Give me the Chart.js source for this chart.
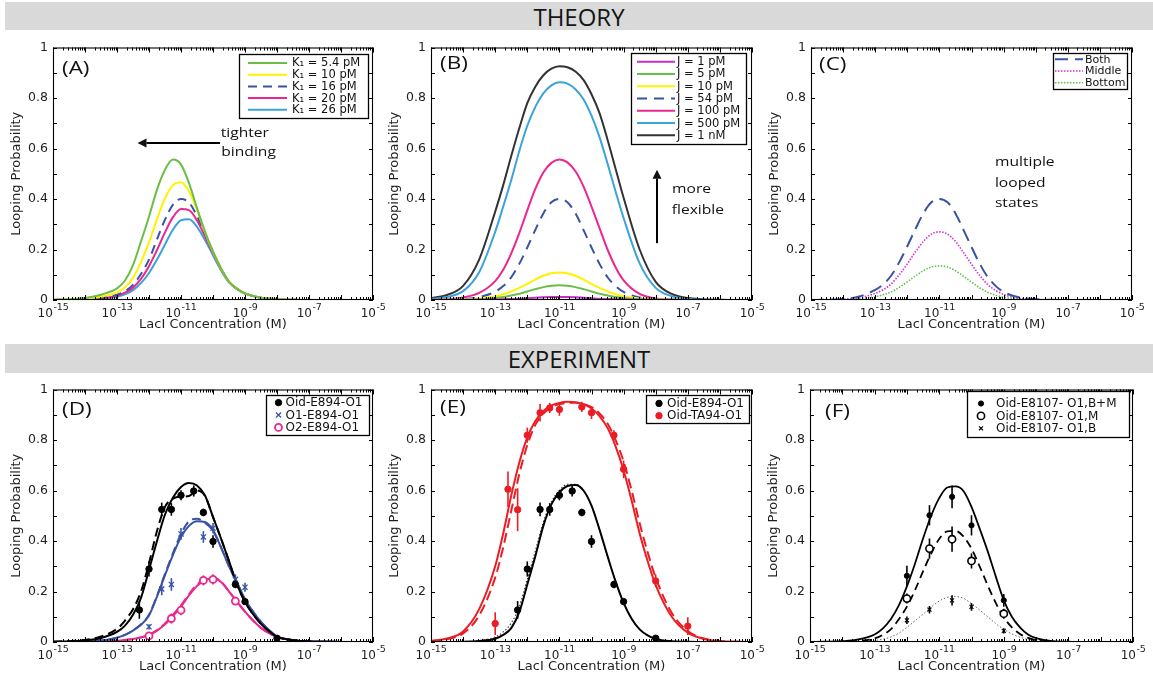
<!DOCTYPE html>
<html>
<head>
<meta charset="utf-8">
<title>Looping probability vs LacI concentration</title>
<script src="https://cdn.jsdelivr.net/npm/chart.js@4.4.1/dist/chart.umd.min.js"></script>
<style>
  html, body { margin: 0; padding: 0; background: #fff; }
  body { width: 1153px; height: 677px; position: relative; overflow: hidden; }
  .band { position: absolute; left: 5px; right: 0; background: #d9d9d9;
          font-family: "Open Sans", "Noto Sans", sans-serif; font-size: 24px;
          color: #151515; text-align: center; }
  canvas { position: absolute; }
</style>
</head>
<body>
<div class="band" style="top:2px;height:28px;line-height:29px;">THEORY</div>
<div class="band" style="top:344px;height:29px;line-height:30px;">EXPERIMENT</div>
<canvas id="pA"></canvas>
<canvas id="pB"></canvas>
<canvas id="pC"></canvas>
<canvas id="pD"></canvas>
<canvas id="pE"></canvas>
<canvas id="pF"></canvas>
<script>
// ---------- data ----------
// log10 of LacI concentration (M) where the model curves are sampled
const theoryLogC = [-15,-14.5,-14,-13.5,-13,-12.75,-12.5,-12.25,-12,-11.75,-11.5,-11.25,-11,-10.75,-10.5,-10.25,-10,-9.75,-9.5,-9.25,-9,-8.5,-8,-7.5,-7,-6,-5];
const fitLogC = [-15,-14.5,-14,-13.5,-13,-12.75,-12.5,-12.25,-12,-11.75,-11.5,-11.25,-11,-10.75,-10.5,-10.25,-10,-9.75,-9.5,-9.25,-9,-8.75,-8.5,-8.25,-8,-7.5,-7,-6.5,-6,-5.5,-5];

// decade ticks and the labelled exponents on the concentration axis
const decadeExponents = [-15,-14,-13,-12,-11,-10,-9,-8,-7,-6,-5];
const labelExponents = [-15,-13,-11,-9,-7,-5];

// (A) varying K1
const k1_5p4 = [0.001,0.003,0.008,0.021,0.046,0.077,0.138,0.232,0.33,0.437,0.516,0.556,0.536,0.463,0.364,0.271,0.192,0.126,0.073,0.045,0.026,0.009,0.003,0.001,0,0,0];
const k1_10  = [0.001,0.002,0.005,0.013,0.03,0.05,0.088,0.15,0.228,0.32,0.403,0.455,0.466,0.43,0.357,0.268,0.19,0.125,0.073,0.045,0.026,0.009,0.003,0.001,0,0,0];
const k1_16  = [0,0.001,0.003,0.008,0.021,0.035,0.06,0.103,0.16,0.24,0.318,0.378,0.40,0.386,0.333,0.262,0.19,0.125,0.073,0.045,0.026,0.009,0.003,0.001,0,0,0];
const k1_20  = [0,0.001,0.002,0.006,0.017,0.029,0.049,0.084,0.134,0.198,0.268,0.328,0.36,0.356,0.315,0.252,0.185,0.122,0.072,0.044,0.026,0.009,0.003,0.001,0,0,0];
const k1_26  = [0,0.001,0.002,0.005,0.013,0.022,0.039,0.067,0.107,0.16,0.22,0.279,0.316,0.32,0.29,0.238,0.177,0.118,0.07,0.043,0.025,0.009,0.003,0.001,0,0,0];

// (B) varying J
const j_1p   = [0,0,0,0.001,0.002,0.003,0.004,0.005,0.007,0.009,0.011,0.012,0.012,0.012,0.011,0.009,0.007,0.005,0.004,0.003,0.002,0.001,0,0,0,0,0];
const j_5p   = [0,0,0.001,0.003,0.008,0.012,0.018,0.025,0.034,0.043,0.051,0.056,0.058,0.056,0.051,0.043,0.034,0.025,0.018,0.012,0.008,0.003,0.001,0,0,0,0];
const j_10p  = [0,0.001,0.002,0.006,0.015,0.023,0.034,0.048,0.064,0.081,0.096,0.106,0.109,0.106,0.096,0.081,0.064,0.048,0.034,0.023,0.015,0.006,0.002,0.001,0,0,0];
const j_54p  = [0,0.001,0.003,0.011,0.033,0.055,0.09,0.143,0.208,0.278,0.343,0.387,0.40,0.387,0.343,0.278,0.208,0.143,0.09,0.055,0.032,0.01,0.003,0.001,0,0,0];
const j_100p = [0.001,0.003,0.01,0.028,0.075,0.12,0.185,0.265,0.355,0.44,0.505,0.543,0.556,0.545,0.51,0.45,0.37,0.285,0.2,0.13,0.078,0.024,0.006,0.002,0,0,0];
const j_500p = [0.004,0.012,0.035,0.11,0.27,0.37,0.475,0.59,0.69,0.765,0.818,0.85,0.862,0.857,0.835,0.795,0.73,0.645,0.54,0.43,0.325,0.145,0.048,0.015,0.004,0,0];
const j_1n   = [0.007,0.02,0.056,0.16,0.35,0.455,0.57,0.68,0.78,0.845,0.89,0.916,0.926,0.922,0.905,0.872,0.815,0.74,0.635,0.52,0.405,0.2,0.072,0.024,0.008,0.001,0];

// (C) looped states
const loopBoth   = [0,0.001,0.004,0.014,0.04,0.062,0.097,0.15,0.213,0.28,0.343,0.387,0.40,0.387,0.343,0.278,0.21,0.145,0.092,0.056,0.032,0.01,0.003,0.001,0,0,0];
const loopMiddle = [0,0.001,0.003,0.009,0.026,0.041,0.064,0.1,0.143,0.19,0.232,0.261,0.27,0.261,0.232,0.188,0.142,0.098,0.062,0.038,0.022,0.007,0.002,0,0,0,0];
const loopBottom = [0,0,0.001,0.005,0.013,0.021,0.032,0.05,0.072,0.095,0.116,0.131,0.135,0.131,0.116,0.094,0.071,0.049,0.031,0.019,0.011,0.004,0.001,0,0,0,0];

// measured looping probabilities (concentration in M, probability, error)
const oidE894Conc = [5e-13,1e-12,2.5e-12,5e-12,1e-11,2.5e-11,5e-11,1e-10,5e-10,1e-9,1e-8];
const oidE894P    = [0.127,0.289,0.525,0.525,0.581,0.598,0.513,0.398,0.228,0.16,0.015];
const oidE894Err  = [0.035,0.03,0.027,0.025,0.02,0.022,0.015,0.025,0.015,0.012,0.008];

const o1E894Conc = [1e-12,2.5e-12,5e-12,1e-11,5e-11,1e-10,5e-10,1e-9];
const o1E894P    = [0.06,0.21,0.228,0.428,0.416,0.451,0.248,0.217];
const o1E894Err  = [0.01,0.025,0.025,0.023,0.023,0.02,0.02,0.018];

const o2E894Conc = [1e-12,5e-12,1e-11,5e-11,1e-10,5e-10];
const o2E894P    = [0.024,0.093,0.126,0.244,0.248,0.162];
const o2E894Err  = [0.008,0.02,0.02,0.02,0.02,0.01];

const oidTA94Conc = [1e-13,2.5e-13,5e-13,1e-12,2.5e-12,5e-12,1e-11,5e-11,1e-10,5e-10,1e-9,1e-8,1e-7];
const oidTA94P    = [0.073,0.605,0.524,0.819,0.908,0.927,0.921,0.931,0.908,0.819,0.684,0.242,0.063];
const oidTA94Err  = [0.045,0.07,0.085,0.03,0.035,0.02,0.025,0.02,0.025,0.02,0.035,0.025,0.035];

const e8107Conc = [1e-12,5e-12,2.5e-11,1e-10,1e-9];
const e8107BM   = [0.262,0.502,0.575,0.462,0.165];
const e8107BMErr = [0.04,0.04,0.045,0.04,0.025];
const e8107M    = [0.172,0.37,0.407,0.321,0.112];
const e8107MErr = [0.02,0.04,0.05,0.03,0.02];
const e8107B    = [0.086,0.128,0.165,0.139,0.044];
const e8107BErr = [0.015,0.015,0.02,0.015,0.01];

// fitted curves
const fitD_oid      = [0.001,0.002,0.006,0.016,0.04,0.065,0.108,0.175,0.285,0.40,0.505,0.572,0.614,0.63,0.62,0.58,0.495,0.41,0.32,0.228,0.159,0.11,0.072,0.043,0.021,0.007,0.002,0.001,0,0,0];
const fitD_oidAlt   = [0.001,0.003,0.008,0.022,0.052,0.085,0.13,0.2,0.312,0.44,0.535,0.568,0.576,0.578,0.60,0.578,0.495,0.41,0.32,0.228,0.159,0.11,0.072,0.043,0.021,0.007,0.002,0.001,0,0,0];
const fitD_o1       = [0,0.001,0.002,0.006,0.017,0.028,0.045,0.068,0.105,0.18,0.265,0.345,0.416,0.46,0.478,0.475,0.443,0.375,0.30,0.235,0.17,0.12,0.08,0.048,0.022,0.007,0.002,0.001,0,0,0];
const fitD_o1Alt    = [0,0.001,0.002,0.006,0.017,0.028,0.046,0.07,0.108,0.183,0.27,0.352,0.428,0.478,0.488,0.472,0.44,0.375,0.30,0.235,0.17,0.12,0.08,0.048,0.022,0.007,0.002,0.001,0,0,0];
const fitD_o2       = [0,0,0.001,0.002,0.005,0.008,0.012,0.018,0.027,0.045,0.07,0.103,0.14,0.185,0.222,0.245,0.252,0.238,0.20,0.16,0.12,0.085,0.056,0.035,0.021,0.007,0.002,0.001,0,0,0];
const fitD_o2Alt    = [0,0,0.001,0.002,0.005,0.008,0.012,0.019,0.029,0.047,0.073,0.108,0.145,0.19,0.228,0.25,0.255,0.24,0.20,0.16,0.12,0.085,0.056,0.035,0.021,0.007,0.002,0.001,0,0,0];
const fitE_oid      = [0,0,0.001,0.004,0.013,0.028,0.055,0.118,0.228,0.34,0.46,0.545,0.593,0.618,0.622,0.60,0.54,0.445,0.34,0.24,0.155,0.092,0.05,0.026,0.012,0.003,0.001,0,0,0,0];
const fitE_oidAlt   = [0,0,0.002,0.006,0.02,0.04,0.075,0.14,0.25,0.36,0.475,0.555,0.60,0.625,0.625,0.60,0.54,0.445,0.34,0.24,0.155,0.092,0.05,0.026,0.012,0.003,0.001,0,0,0,0];
const fitE_ta94     = [0.004,0.014,0.042,0.13,0.30,0.43,0.58,0.71,0.81,0.875,0.915,0.937,0.947,0.951,0.95,0.942,0.925,0.895,0.848,0.775,0.68,0.56,0.43,0.32,0.225,0.10,0.037,0.012,0.004,0.001,0];
const fitE_ta94Alt  = [0.003,0.011,0.034,0.105,0.255,0.375,0.52,0.665,0.78,0.86,0.905,0.93,0.942,0.947,0.948,0.943,0.93,0.905,0.865,0.80,0.715,0.60,0.47,0.355,0.255,0.115,0.043,0.014,0.004,0.001,0];
const fitF_BM       = [0,0.001,0.003,0.01,0.03,0.053,0.09,0.145,0.22,0.31,0.41,0.50,0.57,0.612,0.616,0.598,0.535,0.45,0.36,0.26,0.165,0.10,0.058,0.03,0.015,0.003,0.001,0,0,0,0];
const fitF_M        = [0,0,0.001,0.004,0.014,0.028,0.05,0.09,0.14,0.205,0.28,0.35,0.408,0.438,0.44,0.418,0.37,0.30,0.225,0.155,0.098,0.058,0.032,0.016,0.007,0.001,0,0,0,0,0];
const fitF_B        = [0,0,0.001,0.002,0.006,0.011,0.02,0.035,0.058,0.084,0.11,0.138,0.162,0.177,0.18,0.173,0.152,0.127,0.10,0.073,0.05,0.032,0.019,0.01,0.005,0.001,0,0,0,0,0];

// ---------- styling ----------
const COL = {
  green: '#6abd45', yellow: '#fff200', blue: '#3953a4', pink: '#ec268f',
  cyan: '#3ba2dc', dark: '#333333', magenta: '#c72cc7', red: '#ed1c24',
  mid: '#d82fd8', bot: '#5fc24a'
};
const SANS = '"DejaVu Sans", sans-serif';
const HUMAN = '"Open Sans", "Noto Sans", sans-serif';

// plot rectangles on the page
const rects = {
  A: {left: 53,  top: 47,  right: 373,  bottom: 300},
  B: {left: 431, top: 47,  right: 752,  bottom: 300},
  C: {left: 811, top: 47,  right: 1132, bottom: 300},
  D: {left: 53,  top: 389, right: 373,  bottom: 642},
  E: {left: 431, top: 389, right: 752,  bottom: 642},
  F: {left: 810, top: 389, right: 1133, bottom: 642}
};
const Y_AXIS_W = 53, X_AXIS_H = 42, PAD_TOP = 12, PAD_RIGHT = 24;

// ---------- dataset builders ----------
function curve(logs, vals, style) {
  return Object.assign({
    data: logs.map((l, i) => ({x: Math.pow(10, l), y: vals[i]})),
    pointRadius: 0, borderWidth: 2, fill: false,
    cubicInterpolationMode: 'monotone'
  }, style);
}
function measured(conc, vals, errs, style) {
  return Object.assign({
    data: conc.map((c, i) => ({x: c, y: vals[i]})),
    errors: errs, showLine: false, inLegend: true
  }, style);
}

// ---------- plugins ----------
function markerAt(ctx, ds, x, y) {
  const r = ds.pointRadius;
  ctx.save();
  ctx.lineWidth = ds.pointBorderWidth || 1;
  ctx.strokeStyle = ds.pointBorderColor;
  ctx.fillStyle = ds.pointBackgroundColor;
  ctx.beginPath();
  if (ds.pointStyle === 'crossRot') {
    const d = r * 0.7071;
    ctx.moveTo(x - d, y - d); ctx.lineTo(x + d, y + d);
    ctx.moveTo(x - d, y + d); ctx.lineTo(x + d, y - d);
    ctx.stroke();
  } else {
    ctx.arc(x, y, r, 0, Math.PI * 2);
    ctx.fill(); ctx.stroke();
  }
  ctx.restore();
}

const frameTicks = {
  id: 'frameTicks',
  afterDraw(chart) {
    const {ctx, chartArea: a, scales: {x, y}} = chart;
    ctx.save();
    ctx.strokeStyle = '#000';
    ctx.lineWidth = 1.1;
    ctx.strokeRect(a.left + 0.5, a.top + 0.5, a.right - a.left - 1, a.bottom - a.top - 1);
    ctx.lineWidth = 1;
    ctx.beginPath();
    // log ticks on bottom and top edges
    decadeExponents.forEach((e, k) => {
      const px = Math.round(x.getPixelForValue(Math.pow(10, e))) + 0.5;
      ctx.moveTo(px, a.bottom); ctx.lineTo(px, a.bottom - 5);
      ctx.moveTo(px, a.top); ctx.lineTo(px, a.top + 5);
      if (k < decadeExponents.length - 1) {
        for (let m = 2; m <= 9; m++) {
          const q = Math.round(x.getPixelForValue(m * Math.pow(10, e))) + 0.5;
          ctx.moveTo(q, a.bottom); ctx.lineTo(q, a.bottom - 3);
          ctx.moveTo(q, a.top); ctx.lineTo(q, a.top + 3);
        }
      }
    });
    // probability ticks on left and right edges
    for (let i = 0; i <= 10; i++) {
      const py = Math.round(y.getPixelForValue(i / 10)) + 0.5;
      ctx.moveTo(a.left, py); ctx.lineTo(a.left + 4, py);
      ctx.moveTo(a.right, py); ctx.lineTo(a.right - 4, py);
    }
    ctx.stroke();
    // concentration labels as powers of ten
    ctx.fillStyle = '#1e1e1e';
    ctx.textAlign = 'left';
    ctx.textBaseline = 'alphabetic';
    const baseFont = '12px ' + SANS, supFont = '9.5px ' + SANS;
    labelExponents.forEach(e => {
      const px = x.getPixelForValue(Math.pow(10, e));
      const sup = String(e);
      ctx.font = baseFont; const wb = ctx.measureText('10').width;
      ctx.font = supFont;  const ws = ctx.measureText(sup).width;
      const sx = px - (wb + ws) / 2;
      ctx.font = baseFont; ctx.fillText('10', sx, a.bottom + 16.5);
      ctx.font = supFont;  ctx.fillText(sup, sx + wb + 0.5, a.bottom + 9.5);
    });
    ctx.restore();
  }
};

const errorBars = {
  id: 'errorBars',
  beforeDatasetDraw(chart, args) {
    const ds = chart.data.datasets[args.index];
    if (!ds.errors) return;
    const {ctx, scales: {x, y}} = chart;
    ctx.save();
    ctx.strokeStyle = ds.pointBorderColor;
    ctx.lineWidth = 1.6;
    ds.data.forEach((p, i) => {
      const px = x.getPixelForValue(p.x);
      ctx.beginPath();
      ctx.moveTo(px, y.getPixelForValue(p.y - ds.errors[i]));
      ctx.lineTo(px, y.getPixelForValue(p.y + ds.errors[i]));
      ctx.stroke();
    });
    ctx.restore();
  }
};

const boxLegend = {
  id: 'boxLegend',
  afterDraw(chart, args, o) {
    if (!o || !o.width) return;
    const {ctx, chartArea: a} = chart;
    const x0 = Math.round(a.right - o.right - o.width), y0 = Math.round(a.top + o.top);
    ctx.save();
    ctx.fillStyle = '#fff';
    ctx.fillRect(x0, y0, o.width, o.height);
    ctx.strokeStyle = '#000';
    ctx.lineWidth = 1.3;
    ctx.strokeRect(x0 + 0.5, y0 + 0.5, o.width, o.height);
    ctx.font = o.size + 'px ' + SANS;
    ctx.textAlign = 'left';
    ctx.textBaseline = 'middle';
    chart.data.datasets.filter(d => d.inLegend).forEach((d, i) => {
      const cy = y0 + o.first + i * o.row;
      if (d.showLine === false) {
        markerAt(ctx, d, x0 + o.sampleX, cy);
      } else {
        ctx.save();
        ctx.strokeStyle = d.borderColor;
        ctx.lineWidth = d.borderWidth;
        ctx.setLineDash(d.borderDash || []);
        ctx.beginPath();
        ctx.moveTo(x0 + o.sampleX, cy);
        ctx.lineTo(x0 + o.sampleX + o.sampleLen, cy);
        ctx.stroke();
        ctx.restore();
      }
      ctx.fillStyle = '#111';
      ctx.fillText(d.label, x0 + o.textX, cy + 0.5);
    });
    ctx.restore();
  }
};

function wideText(ctx, text, x, y, font, sx) {
  ctx.save();
  ctx.font = font;
  ctx.translate(x, y);
  ctx.scale(sx, 1);
  ctx.fillText(text, 0, 0);
  ctx.restore();
}
function arrow(ctx, x1, y1, x2, y2) {
  const ang = Math.atan2(y2 - y1, x2 - x1), L = 9, W = 4.5;
  const bx = x2 - L * Math.cos(ang), by = y2 - L * Math.sin(ang);
  ctx.beginPath();
  ctx.moveTo(x1, y1); ctx.lineTo(bx, by);
  ctx.stroke();
  ctx.beginPath();
  ctx.moveTo(x2, y2);
  ctx.lineTo(bx + W * Math.sin(ang), by - W * Math.cos(ang));
  ctx.lineTo(bx - W * Math.sin(ang), by + W * Math.cos(ang));
  ctx.closePath();
  ctx.fill();
}
const notes = {
  id: 'notes',
  afterDraw(chart, args, o) {
    if (!o) return;
    const {ctx, chartArea: a, scales: {x, y}} = chart;
    ctx.save();
    ctx.fillStyle = '#111';
    ctx.strokeStyle = '#000';
    ctx.lineWidth = 2;
    ctx.textAlign = 'left';
    ctx.textBaseline = 'middle';
    if (o.tag) wideText(ctx, o.tag.text, a.left + o.tag.dx, a.top + o.tag.dy, '18px ' + HUMAN, 1.25);
    (o.texts || []).forEach(t =>
      wideText(ctx, t.text, x.getPixelForValue(t.x), y.getPixelForValue(t.y), '13px ' + HUMAN, 1.2));
    (o.arrows || []).forEach(r =>
      arrow(ctx, x.getPixelForValue(r.x1), y.getPixelForValue(r.y1),
                 x.getPixelForValue(r.x2), y.getPixelForValue(r.y2)));
    ctx.restore();
  }
};

// ---------- chart factory ----------
function panel(id, rect, datasets, legend, noteOpts) {
  const c = document.getElementById(id);
  const w = rect.right - rect.left + Y_AXIS_W + PAD_RIGHT;
  const h = rect.bottom - rect.top + PAD_TOP + X_AXIS_H;
  c.width = w; c.height = h;
  c.style.width = w + 'px'; c.style.height = h + 'px';
  c.style.left = (rect.left - Y_AXIS_W) + 'px';
  c.style.top = (rect.top - PAD_TOP) + 'px';
  return new Chart(c, {
    type: 'line',
    data: {datasets},
    options: {
      responsive: false, animation: false, devicePixelRatio: 1, events: [],
      layout: {padding: {left: 0, top: PAD_TOP, right: PAD_RIGHT, bottom: 0}},
      scales: {
        x: {
          type: 'logarithmic', min: 1e-15, max: 1e-5,
          ticks: {display: false},
          grid: {display: false, drawTicks: false},
          border: {display: false},
          title: {display: true, text: 'LacI Concentration (M)', color: '#1e1e1e',
                  font: {family: '"DejaVu Sans"', size: 13}, padding: {top: 0, bottom: 10}},
          afterBuildTicks(s) { s.ticks = decadeExponents.map(e => ({value: Math.pow(10, e)})); },
          afterFit(s) { s.height = X_AXIS_H; s.paddingLeft = 0; s.paddingRight = 0; }
        },
        y: {
          min: 0, max: 1,
          ticks: {stepSize: 0.2, padding: 5, color: '#1e1e1e',
                  font: {family: '"DejaVu Sans"', size: 12.5},
                  callback: v => String(+v.toFixed(1))},
          grid: {display: false, drawTicks: false},
          border: {display: false},
          title: {display: true, text: 'Looping Probability', color: '#1e1e1e',
                  font: {family: '"DejaVu Sans"', size: 13}, padding: {top: 9}},
          afterFit(s) { s.width = Y_AXIS_W; }
        }
      },
      plugins: {
        legend: {display: false},
        tooltip: {enabled: false},
        boxLegend: legend,
        notes: noteOpts
      }
    },
    plugins: [frameTicks, errorBars, boxLegend, notes]
  });
}

// ---------- (A) ----------
panel('pA', rects.A, [
  curve(theoryLogC, k1_5p4, {label: 'K\u2081 = 5.4 pM', borderColor: COL.green, inLegend: true}),
  curve(theoryLogC, k1_10,  {label: 'K\u2081 = 10 pM',  borderColor: COL.yellow, inLegend: true}),
  curve(theoryLogC, k1_16,  {label: 'K\u2081 = 16 pM',  borderColor: COL.blue, borderDash: [9, 6], inLegend: true}),
  curve(theoryLogC, k1_20,  {label: 'K\u2081 = 20 pM',  borderColor: COL.pink, inLegend: true}),
  curve(theoryLogC, k1_26,  {label: 'K\u2081 = 26 pM',  borderColor: COL.cyan, inLegend: true})
], {right: 5, top: 6, width: 129, height: 64, first: 9, row: 11.7, sampleX: 9, sampleLen: 39, textX: 53, size: 11.5},
{
  tag: {text: '(A)', dx: 9, dy: 21},
  texts: [{text: 'tighter', x: Math.pow(10, -9.76), y: 0.662},
          {text: 'binding', x: Math.pow(10, -9.74), y: 0.584}],
  arrows: [{x1: Math.pow(10, -9.78), y1: 0.622, x2: Math.pow(10, -12.36), y2: 0.622}]
});

// ---------- (B) ----------
panel('pB', rects.B, [
  curve(theoryLogC, j_1p,   {label: 'J = 1 pM',   borderColor: COL.magenta, inLegend: true}),
  curve(theoryLogC, j_5p,   {label: 'J = 5 pM',   borderColor: COL.green, inLegend: true}),
  curve(theoryLogC, j_10p,  {label: 'J = 10 pM',  borderColor: COL.yellow, inLegend: true}),
  curve(theoryLogC, j_54p,  {label: 'J = 54 pM',  borderColor: COL.blue, borderDash: [10, 7], inLegend: true}),
  curve(theoryLogC, j_100p, {label: 'J = 100 pM', borderColor: COL.pink, inLegend: true}),
  curve(theoryLogC, j_500p, {label: 'J = 500 pM', borderColor: COL.cyan, inLegend: true}),
  curve(theoryLogC, j_1n,   {label: 'J = 1 nM',   borderColor: COL.dark, inLegend: true})
], {right: 6, top: 5, width: 115, height: 91, first: 8.7, row: 12.27, sampleX: 6, sampleLen: 38, textX: 46, size: 11.5},
{
  tag: {text: '(B)', dx: 9, dy: 16},
  texts: [{text: 'more', x: Math.pow(10, -7.49), y: 0.439},
          {text: 'flexible', x: Math.pow(10, -7.5), y: 0.356}],
  arrows: [{x1: Math.pow(10, -7.96), y1: 0.225, x2: Math.pow(10, -7.96), y2: 0.516}]
});

// ---------- (C) ----------
panel('pC', rects.C, [
  curve(theoryLogC, loopBoth,   {label: 'Both',   borderColor: COL.blue, borderDash: [13, 7], inLegend: true}),
  curve(theoryLogC, loopMiddle, {label: 'Middle', borderColor: COL.mid, borderWidth: 1.6, borderDash: [1.5, 1.5], inLegend: true}),
  curve(theoryLogC, loopBottom, {label: 'Bottom', borderColor: COL.bot, borderWidth: 1.6, borderDash: [1.5, 1.5], inLegend: true})
], {right: 5, top: 5, width: 74, height: 36, first: 6.3, row: 11.7, sampleX: 2, sampleLen: 28, textX: 32, size: 11},
{
  tag: {text: '(C)', dx: 8, dy: 17},
  texts: [{text: 'multiple', x: Math.pow(10, -9.27), y: 0.545},
          {text: 'looped', x: Math.pow(10, -9.27), y: 0.462},
          {text: 'states', x: Math.pow(10, -9.27), y: 0.383}]
});

// ---------- (D) ----------
const dotBlack = {pointStyle: 'circle', pointRadius: 3.2, pointBackgroundColor: '#000', pointBorderColor: '#000', pointBorderWidth: 1};
panel('pD', rects.D, [
  measured(oidE894Conc, oidE894P, oidE894Err, Object.assign({label: 'Oid-E894-O1'}, dotBlack)),
  measured(o1E894Conc, o1E894P, o1E894Err, {label: 'O1-E894-O1', pointStyle: 'crossRot', pointRadius: 3.6,
           pointBackgroundColor: COL.blue, pointBorderColor: COL.blue, pointBorderWidth: 1.3}),
  measured(o2E894Conc, o2E894P, o2E894Err, {label: 'O2-E894-O1', pointStyle: 'circle', pointRadius: 3.5,
           pointBackgroundColor: '#fff', pointBorderColor: COL.pink, pointBorderWidth: 1.8}),
  curve(fitLogC, fitD_oid,    {borderColor: '#000'}),
  curve(fitLogC, fitD_oidAlt, {borderColor: '#000', borderDash: [9, 5]}),
  curve(fitLogC, fitD_o1,     {borderColor: COL.blue}),
  curve(fitLogC, fitD_o1Alt,  {borderColor: COL.blue, borderDash: [9, 5]}),
  curve(fitLogC, fitD_o2,     {borderColor: COL.pink}),
  curve(fitLogC, fitD_o2Alt,  {borderColor: COL.pink, borderDash: [9, 5]})
], {right: 4, top: 5, width: 103, height: 40, first: 7.6, row: 12.4, sampleX: 12.5, textX: 19.5, size: 12},
{tag: {text: '(D)', dx: 9, dy: 20}});

// ---------- (E) ----------
panel('pE', rects.E, [
  measured(oidE894Conc, oidE894P, oidE894Err, Object.assign({label: 'Oid-E894-O1'}, dotBlack)),
  measured(oidTA94Conc, oidTA94P, oidTA94Err, {label: 'Oid-TA94-O1', pointStyle: 'circle', pointRadius: 3.2,
           pointBackgroundColor: COL.red, pointBorderColor: COL.red, pointBorderWidth: 1}),
  curve(fitLogC, fitE_oid,     {borderColor: '#000'}),
  curve(fitLogC, fitE_oidAlt,  {borderColor: '#333', borderWidth: 1.1, borderDash: [1.5, 2]}),
  curve(fitLogC, fitE_ta94,    {borderColor: COL.red}),
  curve(fitLogC, fitE_ta94Alt, {borderColor: COL.red, borderDash: [10, 5]})
], {right: 3, top: 5, width: 103, height: 28, first: 8.4, row: 12.3, sampleX: 13, textX: 21, size: 12},
{tag: {text: '(E)', dx: 9, dy: 18.5}});

// ---------- (F) ----------
panel('pF', rects.F, [
  measured(e8107Conc, e8107BM, e8107BMErr, {label: 'Oid-E8107- O1,B+M', pointStyle: 'circle', pointRadius: 2.6,
           pointBackgroundColor: '#000', pointBorderColor: '#000', pointBorderWidth: 1}),
  measured(e8107Conc, e8107M, e8107MErr, {label: 'Oid-E8107- O1,M', pointStyle: 'circle', pointRadius: 3.6,
           pointBackgroundColor: '#fff', pointBorderColor: '#000', pointBorderWidth: 1.6}),
  measured(e8107Conc, e8107B, e8107BErr, {label: 'Oid-E8107- O1,B', pointStyle: 'crossRot', pointRadius: 2.8,
           pointBackgroundColor: '#000', pointBorderColor: '#000', pointBorderWidth: 1.2}),
  curve(fitLogC, fitF_BM, {borderColor: '#000', borderWidth: 1.8}),
  curve(fitLogC, fitF_M,  {borderColor: '#000', borderWidth: 1.8, borderDash: [8, 5]}),
  curve(fitLogC, fitF_B,  {borderColor: '#666', borderWidth: 1, borderDash: [1.5, 2]})
], {right: 4, top: 1, width: 162, height: 46, first: 12.5, row: 12.4, sampleX: 14, textX: 29, size: 12},
{tag: {text: '(F)', dx: 15, dy: 22}});
</script>
</body>
</html>
